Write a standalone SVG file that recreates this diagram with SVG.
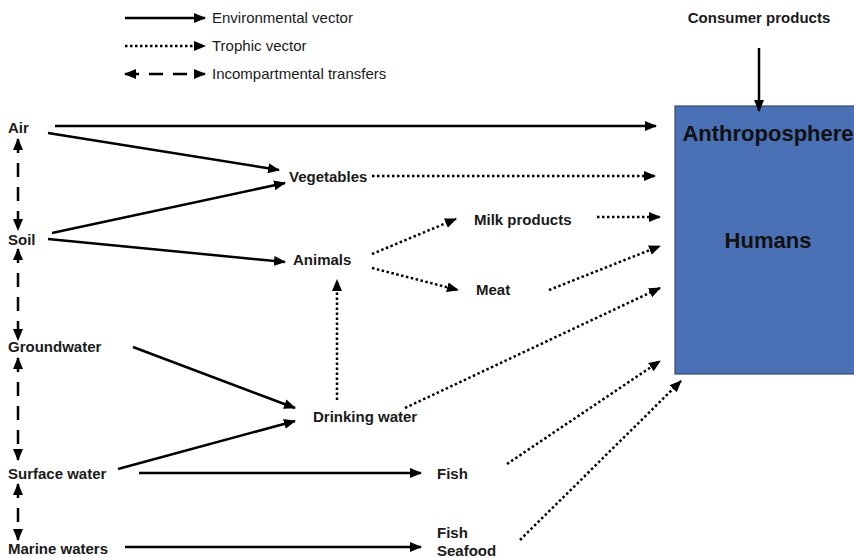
<svg xmlns="http://www.w3.org/2000/svg" width="854" height="558" viewBox="0 0 854 558">
<style>
.t{font-family:"Liberation Sans",Arial,sans-serif;font-size:15px;font-weight:bold;fill:#1a1a1a}
.lg{font-family:"Liberation Sans",Arial,sans-serif;font-size:15px;fill:#1a1a1a}
.big{font-family:"Liberation Sans",Arial,sans-serif;font-size:22px;font-weight:bold;fill:#111;text-anchor:middle}
.s{stroke:#000;stroke-width:2.5;fill:none;marker-end:url(#ah)}
.d{stroke:#000;stroke-width:2.5;fill:none;stroke-dasharray:2.5 2.5;marker-end:url(#ah)}
.x{stroke:#000;stroke-width:2.5;fill:none;stroke-dasharray:14 10;marker-end:url(#ah);marker-start:url(#ahs)}
</style>
<defs>
<marker id="ah" markerUnits="userSpaceOnUse" markerWidth="12" markerHeight="10" refX="11" refY="5" orient="auto"><path d="M0,0 L12,5 L0,10 z" fill="#000"/></marker>
<marker id="ahs" markerUnits="userSpaceOnUse" markerWidth="12" markerHeight="10" refX="1" refY="5" orient="auto"><path d="M12,0 L0,5 L12,10 z" fill="#000"/></marker>
</defs>
<rect width="854" height="558" fill="#fff"/>
<g id="legend">
<line class="s" x1="125" y1="18" x2="205" y2="18"/>
<text class="lg" x="212" y="23">Environmental vector</text>
<line class="d" x1="125" y1="46" x2="205" y2="46"/>
<text class="lg" x="212" y="51">Trophic vector</text>
<line class="x" x1="125" y1="74" x2="205" y2="74" stroke-dasharray="0 14 14 12 14 30"/>
<text class="lg" x="212" y="79">Incompartmental transfers</text>
</g>
<g id="anthroposphere">
<rect x="675" y="106" width="185" height="268" fill="#4a70b6" stroke="#3a4a66" stroke-width="1.2"/>
<text class="big" x="768" y="141">Anthroposphere</text>
<text class="big" x="768" y="248">Humans</text>
</g>
<g id="consumer"><text class="t" x="759" y="23" text-anchor="middle">Consumer products</text></g>
<g id="air"><text class="t" x="8" y="133">Air</text></g>
<g id="soil"><text class="t" x="8" y="245">Soil</text></g>
<g id="groundwater"><text class="t" x="8" y="352">Groundwater</text></g>
<g id="surfacewater"><text class="t" x="8" y="479">Surface water</text></g>
<g id="marinewaters"><text class="t" x="8" y="554">Marine waters</text></g>
<g id="vegetables"><text class="t" x="289" y="182">Vegetables</text></g>
<g id="animals"><text class="t" x="293" y="265">Animals</text></g>
<g id="milk"><text class="t" x="474" y="225">Milk products</text></g>
<g id="meat"><text class="t" x="476" y="295">Meat</text></g>
<g id="drinking"><text class="t" x="313" y="422">Drinking water</text></g>
<g id="fish"><text class="t" x="437" y="479">Fish</text></g>
<g id="seafood"><text class="t" x="437" y="538">Fish</text><text class="t" x="437" y="556">Seafood</text></g>
<g id="connectors">
<line class="s" x1="759" y1="48" x2="759" y2="111"/>
<line class="s" x1="55" y1="126" x2="656" y2="126"/>
<line class="s" x1="48" y1="133" x2="279" y2="170"/>
<line class="s" x1="52" y1="233" x2="285" y2="183"/>
<line class="s" x1="48" y1="239" x2="285" y2="262"/>
<line class="d" x1="372" y1="176" x2="655" y2="176"/>
<line class="d" x1="372" y1="254" x2="456" y2="219"/>
<line class="d" x1="372" y1="268" x2="458" y2="290"/>
<line class="d" x1="597" y1="217" x2="660" y2="217"/>
<line class="d" x1="549" y1="290" x2="660" y2="246"/>
<line class="d" x1="337" y1="400" x2="337" y2="280"/>
<line class="d" x1="405" y1="408" x2="660" y2="288"/>
<line class="s" x1="133" y1="347" x2="295" y2="408"/>
<line class="s" x1="118" y1="469" x2="295" y2="421"/>
<line class="s" x1="139" y1="473" x2="421" y2="473"/>
<line class="s" x1="125" y1="547" x2="421" y2="547"/>
<line class="d" x1="507" y1="464" x2="660" y2="361"/>
<line class="d" x1="520" y1="540" x2="681" y2="381"/>
<line class="x" x1="18" y1="139" x2="18" y2="230"/>
<line class="x" x1="18" y1="249" x2="18" y2="340"/>
<line class="x" x1="18" y1="358" x2="18" y2="460"/>
<line class="x" x1="18" y1="484" x2="18" y2="540"/>
</g>
</svg>
